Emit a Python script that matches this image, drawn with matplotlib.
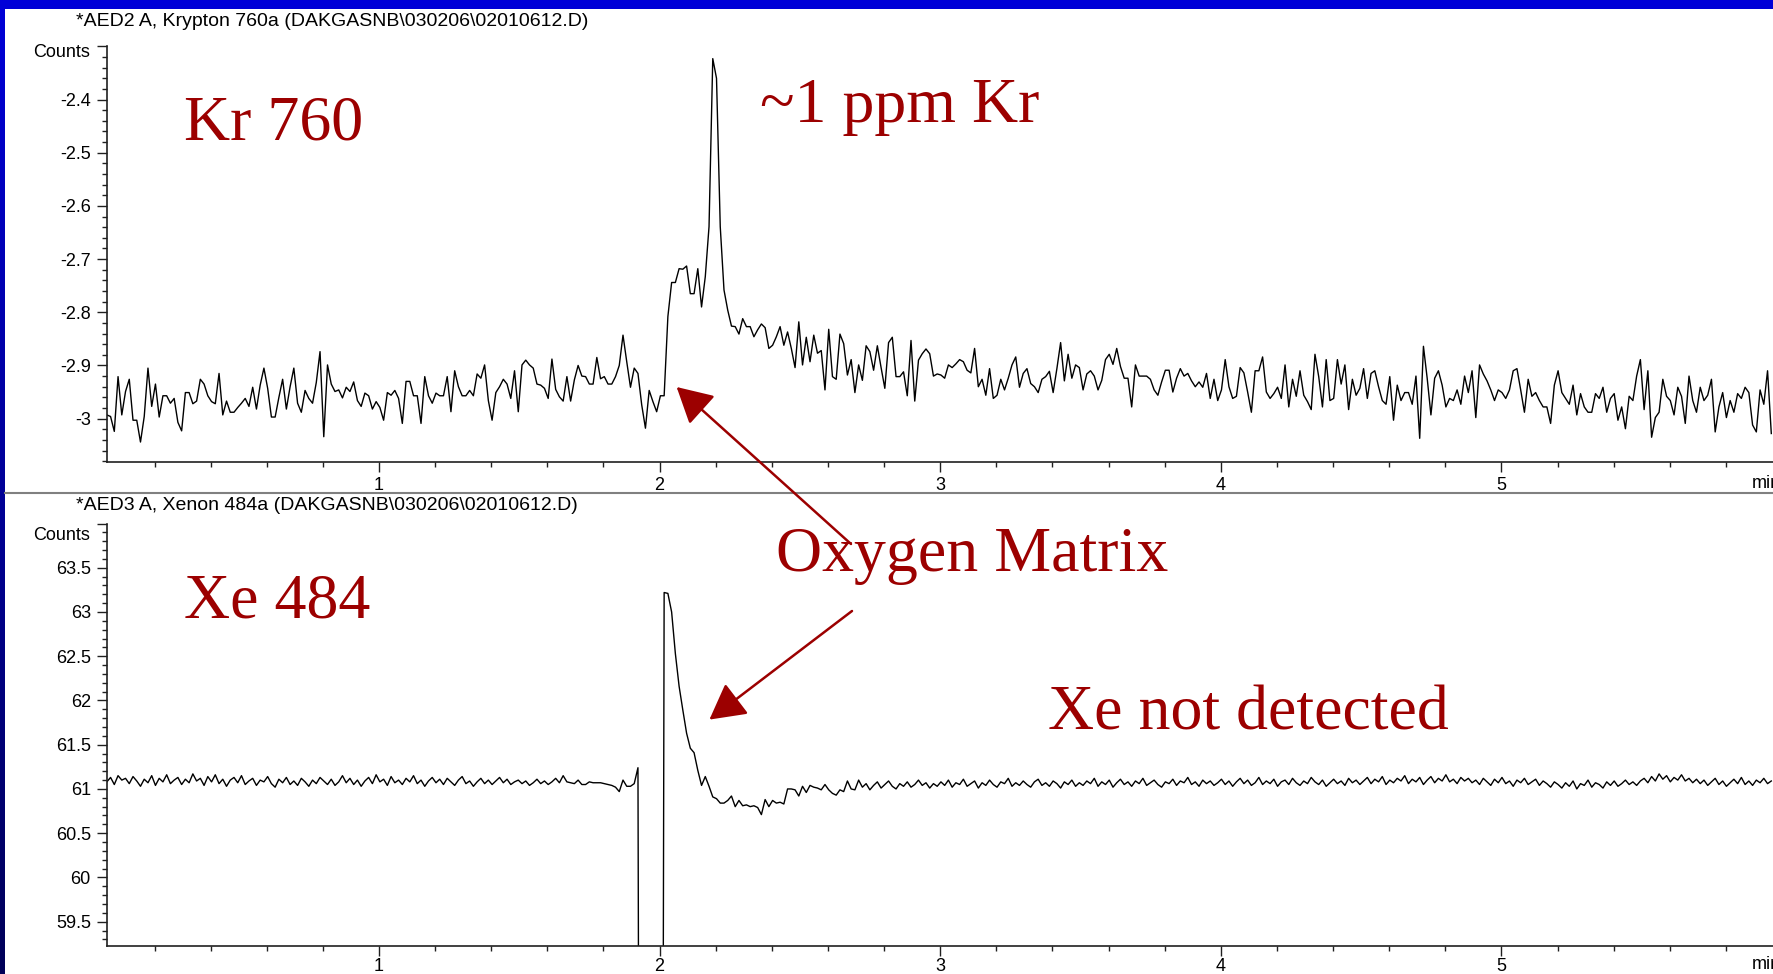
import numpy as np
import matplotlib
matplotlib.use("Agg")
import matplotlib.pyplot as plt
from matplotlib.ticker import MultipleLocator, FixedLocator, FixedFormatter
from matplotlib.patches import Rectangle, FancyArrowPatch
from matplotlib.lines import Line2D
from matplotlib.colors import LinearSegmentedColormap

plt.rcParams['font.family'] = ['Liberation Sans', 'DejaVu Sans']
plt.rcParams['axes.unicode_minus'] = False

# detector sampling (min)
t_start = 0.030
t_step = 0.01333

kr_title = r'*AED2 A, Krypton 760a (DAKGASNB\030206\02010612.D)'
xe_title = r'*AED3 A, Xenon 484a (DAKGASNB\030206\02010612.D)'

# Krypton 760 trace
kr_counts = [
    -2.993, -2.996, -3.024, -2.921, -2.993, -2.949, -2.926, -3.003, -3.003, -3.044,
    -2.996, -2.905, -2.977, -2.935, -2.997, -2.957, -2.957, -2.971, -2.962, -3.007,
    -3.023, -2.951, -2.951, -2.972, -2.967, -2.926, -2.935, -2.957, -2.968, -2.972,
    -2.915, -2.993, -2.967, -2.988, -2.988, -2.979, -2.971, -2.962, -2.977, -2.941,
    -2.982, -2.937, -2.905, -2.943, -2.997, -2.997, -2.960, -2.926, -2.982, -2.940,
    -2.905, -2.971, -2.988, -2.947, -2.962, -2.971, -2.932, -2.874, -3.034, -2.899,
    -2.935, -2.949, -2.946, -2.961, -2.941, -2.949, -2.931, -2.966, -2.977, -2.952,
    -2.957, -2.982, -2.968, -2.979, -3.003, -2.951, -2.956, -2.947, -2.962, -3.009,
    -2.930, -2.930, -2.957, -2.957, -3.009, -2.921, -2.957, -2.971, -2.952, -2.957,
    -2.957, -2.921, -2.987, -2.910, -2.940, -2.957, -2.957, -2.947, -2.957, -2.916,
    -2.924, -2.899, -2.966, -3.003, -2.951, -2.940, -2.926, -2.935, -2.962, -2.910,
    -2.987, -2.899,
    -2.890, -2.899, -2.905, -2.935, -2.937, -2.943, -2.962, -2.888, -2.945, -2.959,
    -2.967, -2.921, -2.967, -2.927, -2.900, -2.920, -2.921, -2.935, -2.935, -2.885,
    -2.925, -2.921, -2.935, -2.935, -2.921, -2.900, -2.843, -2.893, -2.941, -2.905,
    -2.915, -2.974, -3.018, -2.947, -2.968, -2.987, -2.957, -2.957,
    -2.808, -2.744, -2.744, -2.718, -2.719, -2.713, -2.765, -2.765, -2.718, -2.790,
    -2.733, -2.639, -2.323, -2.360, -2.639, -2.758, -2.796, -2.826, -2.827, -2.841,
    -2.812, -2.827, -2.827, -2.846, -2.833, -2.822, -2.829, -2.868, -2.862, -2.846,
    -2.827, -2.862, -2.837, -2.868, -2.904, -2.818, -2.899, -2.847, -2.893, -2.843,
    -2.877, -2.872, -2.946, -2.832, -2.921, -2.926, -2.841, -2.859, -2.918, -2.889,
    -2.951, -2.899, -2.928,
    -2.863, -2.874, -2.909, -2.863, -2.904, -2.943, -2.857, -2.847, -2.921, -2.921,
    -2.912, -2.957, -2.853, -2.967, -2.890, -2.878, -2.869, -2.878, -2.920, -2.916,
    -2.918,
    -2.924, -2.899, -2.904, -2.897, -2.889, -2.893, -2.909, -2.914, -2.868, -2.940,
    -2.926, -2.956, -2.906, -2.962, -2.956, -2.926, -2.946, -2.924, -2.899, -2.884,
    -2.941, -2.915, -2.906, -2.934, -2.940, -2.951, -2.926, -2.921, -2.911, -2.951,
    -2.906, -2.857, -2.929, -2.879, -2.924, -2.899, -2.904, -2.946, -2.916, -2.910,
    -2.920, -2.946, -2.928, -2.889, -2.879, -2.898, -2.868, -2.902, -2.924, -2.924,
    -2.978, -2.899, -2.920, -2.920, -2.920, -2.926, -2.946, -2.956, -2.931, -2.909,
    -2.909, -2.950, -2.924, -2.906, -2.920, -2.915, -2.929, -2.940, -2.931, -2.941,
    -2.915, -2.962, -2.926, -2.966, -2.946, -2.889, -2.940, -2.962, -2.958, -2.904,
    -2.914, -2.950, -2.988, -2.910, -2.910, -2.884, -2.950, -2.962, -2.953, -2.941,
    -2.962, -2.899, -2.978, -2.926, -2.958, -2.910, -2.956, -2.968, -2.983, -2.879,
    -2.921, -2.978, -2.889, -2.966, -2.962, -2.889, -2.935, -2.899, -2.983, -2.926,
    -2.956, -2.943,
    -2.906, -2.962, -2.915, -2.910, -2.940, -2.966, -2.973, -2.921, -3.003, -2.937,
    -2.966, -2.951, -2.951, -2.973, -2.920, -3.037, -2.864, -2.924, -2.993, -2.924,
    -2.910, -2.937, -2.978, -2.962, -2.966, -2.946, -2.973, -2.920, -2.951, -2.910,
    -2.998, -2.899, -2.916, -2.929, -2.946, -2.966, -2.946, -2.951, -2.962, -2.946,
    -2.910, -2.906, -2.946, -2.988, -2.926, -2.958, -2.951, -2.966, -2.978, -2.978,
    -3.009, -2.937, -2.910, -2.951, -2.962, -2.973, -2.937, -2.993, -2.953, -2.978,
    -2.988, -2.988, -2.953, -2.962, -2.941, -2.988, -2.962, -2.953, -3.003, -2.978,
    -3.019, -2.958, -2.966, -2.920, -2.889, -2.983, -2.910, -3.035, -2.998, -2.988,
    -2.926, -2.958, -2.966, -2.993, -2.941, -2.958, -3.009, -2.920, -2.966, -2.988,
    -2.941, -2.966, -2.956, -2.926, -3.025, -2.978, -2.951, -2.998, -2.966, -2.988,
    -2.953, -2.962, -2.941, -2.951, -3.012, -3.025, -2.946, -2.973, -2.910, -3.028,
]

# Xenon 484 trace (values under the axis floor go off scale)
xe_counts = [
    61.08, 61.13, 61.05, 61.15, 61.10, 61.12, 61.06, 61.14, 61.09, 61.03,
    61.11, 61.07, 61.15, 61.04, 61.12, 61.08, 61.16, 61.06, 61.10, 61.13,
    61.05, 61.11, 61.07, 61.17, 61.09, 61.12, 61.04, 61.14, 61.08, 61.16,
    61.06, 61.11, 61.03, 61.10, 61.13, 61.07, 61.15, 61.05, 61.09, 61.12,
    61.04, 61.10, 61.08, 61.14, 61.06, 61.02, 61.11, 61.07, 61.13, 61.05,
    61.09, 61.04, 61.12, 61.08, 61.03, 61.10, 61.06, 61.13, 61.09, 61.05,
    61.11, 61.04, 61.08, 61.15, 61.07, 61.12, 61.05, 61.10, 61.03, 61.09,
    61.13, 61.06, 61.16, 61.08, 61.11, 61.04, 61.14, 61.07, 61.10, 61.05,
    61.12, 61.08, 61.15, 61.06, 61.10, 61.03, 61.09, 61.13, 61.07, 61.11,
    61.05, 61.12, 61.08, 61.04, 61.10, 61.14, 61.06, 61.09, 61.03, 61.08,
    61.12, 61.06, 61.10, 61.05, 61.09, 61.13, 61.07, 61.11, 61.05, 61.08,
    61.10, 61.06, 61.09, 61.04, 61.07, 61.11, 61.06, 61.09, 61.05, 61.08,
    61.12, 61.07,
    61.15, 61.08, 61.07, 61.06, 61.10, 61.05, 61.05, 61.08, 61.07, 61.07,
    61.07, 61.06, 61.05, 61.04, 61.02, 60.97, 61.10, 61.03, 61.03, 61.06,
    61.24,
    45.0, 45.0, 45.0, 45.0, 45.0, 45.0,
    63.22,
    63.21, 63.00, 62.53, 62.16, 61.89, 61.63, 61.46, 61.41, 61.21, 61.04,
    61.14, 61.03, 60.91, 60.89, 60.84, 60.84, 60.87, 60.92, 60.80, 60.87,
    60.81, 60.82, 60.80, 60.81, 60.79, 60.71, 60.88, 60.80, 60.87, 60.84,
    60.85, 60.83, 61.00, 61.00, 60.99, 60.92, 61.03, 60.96, 61.04, 61.02,
    61.01, 60.99, 61.05, 60.99, 60.95, 60.93, 60.99, 60.97, 61.09, 61.00,
    60.99, 61.10,
    61.02, 61.06, 60.99, 61.04, 61.08, 61.01, 61.05, 61.09, 61.03, 61.00,
    61.06, 61.03, 61.08, 61.02, 61.05, 61.10, 61.04, 61.07, 61.01, 61.06,
    61.03,
    61.08, 61.04, 61.10, 61.02, 61.07, 61.05, 61.11, 61.03, 61.06, 61.09,
    61.01, 61.07, 61.04, 61.10, 61.05, 61.02, 61.08, 61.06, 61.12, 61.03,
    61.07, 61.04, 61.09, 61.05, 61.02, 61.08, 61.11, 61.04, 61.07, 61.03,
    61.09, 61.06, 61.01, 61.08, 61.05, 61.10, 61.03, 61.07,
    61.04, 61.09, 61.06, 61.12, 61.03, 61.08, 61.05, 61.10, 61.02, 61.07,
    61.11, 61.05, 61.08, 61.03, 61.09, 61.06, 61.12, 61.04, 61.07, 61.10,
    61.05, 61.02, 61.08, 61.06, 61.11, 61.04, 61.09, 61.07, 61.13, 61.05,
    61.08, 61.03, 61.10, 61.06, 61.09, 61.04, 61.07,
    61.11, 61.05, 61.09, 61.03, 61.08, 61.12, 61.06, 61.10, 61.04, 61.07,
    61.13, 61.05, 61.09, 61.06, 61.11, 61.03, 61.08, 61.10, 61.05, 61.12,
    61.07, 61.04, 61.09, 61.06, 61.13, 61.08, 61.05, 61.10, 61.03, 61.07,
    61.11, 61.06, 61.09, 61.04, 61.12, 61.07, 61.10, 61.05,
    61.09, 61.13, 61.06, 61.11, 61.08, 61.14, 61.05, 61.10, 61.07, 61.12,
    61.09, 61.15, 61.06, 61.11, 61.08, 61.13, 61.05, 61.10, 61.14, 61.07,
    61.12, 61.09, 61.16, 61.08, 61.11, 61.06, 61.13, 61.09, 61.12, 61.07,
    61.10, 61.05, 61.12, 61.08, 61.04, 61.11, 61.07, 61.13, 61.06, 61.09,
    61.03, 61.10, 61.07, 61.12, 61.05, 61.08, 61.11, 61.04, 61.09, 61.06,
    61.02, 61.08,
    61.05, 61.01, 61.07, 61.03, 61.09, 61.00, 61.06, 61.04, 61.10, 61.02,
    61.07, 61.05, 61.01, 61.08, 61.04, 61.09, 61.03, 61.06, 61.10, 61.05,
    61.08, 61.04, 61.09,
    61.12, 61.07, 61.14, 61.09, 61.17, 61.11, 61.15, 61.08, 61.13, 61.10,
    61.16, 61.09, 61.12, 61.07, 61.11,
    61.06, 61.10, 61.04, 61.08, 61.12, 61.05, 61.09, 61.03, 61.07, 61.11,
    61.06, 61.13, 61.05, 61.09, 61.04, 61.10, 61.07, 61.12, 61.06, 61.09,
]

kr_yticks = [-3.0, -2.9, -2.8, -2.7, -2.6, -2.5, -2.4, -2.3]
kr_ylabels = ['-3', '-2.9', '-2.8', '-2.7', '-2.6', '-2.5', '-2.4', '']
xe_yticks = [59.5, 60.0, 60.5, 61.0, 61.5, 62.0, 62.5, 63.0, 63.5, 64.0]
xe_ylabels = ['59.5', '60', '60.5', '61', '61.5', '62', '62.5', '63', '63.5', '']
x_major = [1, 2, 3, 4, 5]

RED = '#9c0000'
W, H = 1774, 974


def fx(px):
    return px / W


def fy(py):
    return 1 - py / H


fig = plt.figure(figsize=(W / 100, H / 100), dpi=100)

# slide background: blue gradient with white content area
bg = fig.add_axes([0, 0, 1, 1], zorder=-5)
grad = np.linspace(0, 1, 256).reshape(-1, 1)
cmap = LinearSegmentedColormap.from_list('slide', ['#000058', '#0000d8'])
bg.imshow(grad, aspect='auto', cmap=cmap, extent=[0, 1, 0, 1], origin='lower')
bg.axis('off')
fig.add_artist(Rectangle((fx(5), 0), 1, fy(9), transform=fig.transFigure,
                         facecolor='white', edgecolor='none', zorder=-4))
fig.add_artist(Line2D([fx(5), 1], [fy(493), fy(493)], transform=fig.transFigure,
                      color='#808080', lw=1.5, zorder=-3))


def make_panel(rect, ylim, yticks, ylabels, yminor, times, counts, title, title_y,
               xpad, counts_dy):
    ax = fig.add_axes(rect)
    ax.patch.set_alpha(0)
    ax.plot(times, counts, color='black', lw=1.0)
    ax.set_xlim(0.0324, 6.0)
    ax.set_ylim(*ylim)
    for s in ['top', 'right']:
        ax.spines[s].set_visible(False)
    for s in ['left', 'bottom']:
        ax.spines[s].set_linewidth(1.2)
        ax.spines[s].set_color('#202020')
    ax.xaxis.set_major_locator(FixedLocator(x_major))
    ax.xaxis.set_major_formatter(FixedFormatter([str(v) for v in x_major]))
    ax.xaxis.set_minor_locator(MultipleLocator(0.2))
    ax.yaxis.set_major_locator(FixedLocator(yticks))
    ax.yaxis.set_major_formatter(FixedFormatter(ylabels))
    ax.yaxis.set_minor_locator(MultipleLocator(yminor))
    ax.tick_params(axis='both', which='major', direction='out', length=7,
                   width=1.0, labelsize=13, color='#202020')
    ax.tick_params(axis='both', which='minor', direction='out', length=3.5,
                   width=1.0, color='#202020')
    ax.tick_params(axis='y', which='major', pad=5)
    ax.tick_params(axis='x', which='major', pad=xpad)
    ax.annotate('Counts', xy=(0, 1), xycoords='axes fraction', xytext=(-17, counts_dy),
                textcoords='offset pixels', ha='right', va='center', fontsize=13)
    fig.text(fx(76), fy(title_y), title, ha='left', va='center', fontsize=14)
    label_y = ax.get_position().y0 - (9.7 + xpad * 1.39 + 7) / H
    fig.text(fx(1752), label_y, 'min', ha='left', va='center', fontsize=13)
    return ax


kr_t = t_start + t_step * np.arange(len(kr_counts))
xe_t = t_start + t_step * np.arange(len(xe_counts))

left = fx(107.5)
width = (1782 - 107.5) / W
ax1 = make_panel([left, fy(461.7), width, (461.7 - 46.4) / H], (-3.081, -2.3),
                 kr_yticks, kr_ylabels, 0.02, kr_t, kr_counts, kr_title, 21,
                 4, -6)
ax2 = make_panel([left, fy(946), width, (946 - 523.5) / H], (59.225, 64.0),
                 xe_yticks, xe_ylabels, 0.1, xe_t, xe_counts, xe_title, 505,
                 1.5, -12)

serif = ['Liberation Serif', 'DejaVu Serif']
notes = [('Kr 760', 184, 139), ('~1 ppm Kr', 760, 122), ('Oxygen Matrix', 776, 571),
         ('Xe 484', 184, 618), ('Xe not detected', 1048, 730)]
for txt, x, y in notes:
    fig.text(fx(x), fy(y), txt, family=serif, fontsize=46, color=RED,
             ha='left', va='baseline')

arrows = [((851, 544), (676.6, 387)), ((852, 611), (709.4, 719.6))]
for (xa, ya), (xb, yb) in arrows:
    fig.add_artist(FancyArrowPatch((fx(xa), fy(ya)), (fx(xb), fy(yb)),
                                   transform=fig.transFigure,
                                   arrowstyle='-|>,head_length=1.1,head_width=0.6',
                                   mutation_scale=20, lw=1.8, color=RED,
                                   shrinkA=0, shrinkB=0, zorder=5))

fig.savefig('out.png', dpi=100)
